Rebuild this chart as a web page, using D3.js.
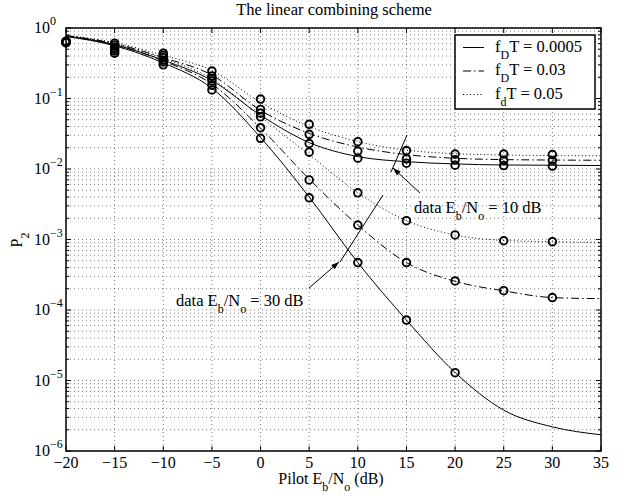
<!DOCTYPE html>
<html>
<head>
<meta charset="utf-8">
<script src="https://cdn.jsdelivr.net/npm/d3@7/dist/d3.min.js"></script>
<style>
body { margin: 0; background: #fff; }
svg text { font-family: "Liberation Serif", "Times New Roman", serif; fill: #000; }
</style>
</head>
<body>
<div id="chart"></div>
<script>
// pilot Eb/No (dB) for the analytic curves and for the simulated points
var xLine = [-20, -15, -10, -5, 0, 5, 10, 15, 20, 25, 30, 35];
var xSim = [-20, -15, -10, -5, 0, 5, 10, 15, 20, 25, 30];

// data Eb/No = 10 dB
var solid10 = [0.77, 0.58, 0.35, 0.18, 0.058, 0.0237, 0.0150, 0.0127, 0.0118, 0.0114, 0.0113, 0.0112];
var dashdot10 = [0.78, 0.60, 0.38, 0.215, 0.068, 0.032, 0.0205, 0.0160, 0.0142, 0.0136, 0.0134, 0.0133];
var dotted10 = [0.79, 0.62, 0.41, 0.25, 0.088, 0.040, 0.0245, 0.0185, 0.0165, 0.0158, 0.0155, 0.0154];
// data Eb/No = 30 dB
var solid30 = [0.76, 0.56, 0.32, 0.14, 0.028, 0.0040, 4.7e-4, 7.2e-5, 1.3e-5, 3.8e-6, 2.2e-6, 1.7e-6];
var dashdot30 = [0.77, 0.58, 0.34, 0.16, 0.038, 0.0072, 1.6e-3, 4.7e-4, 2.55e-4, 1.87e-4, 1.5e-4, 1.45e-4];
var dotted30 = [0.78, 0.60, 0.37, 0.19, 0.055, 0.016, 4.6e-3, 1.85e-3, 1.16e-3, 9.7e-4, 9.3e-4, 9.1e-4];

// simulation circles
var simSolid10 = [0.63, 0.53, 0.35, 0.177, 0.062, 0.023, 0.0142, 0.0121, 0.0113, 0.0112, 0.0110];
var simDashdot10 = [0.64, 0.57, 0.38, 0.208, 0.070, 0.031, 0.018, 0.0139, 0.0135, 0.0133, 0.0132];
var simDotted10 = [0.65, 0.61, 0.44, 0.245, 0.098, 0.043, 0.0244, 0.0183, 0.0163, 0.0163, 0.0160];
var simSolid30 = [0.62, 0.44, 0.30, 0.132, 0.0272, 0.0039, 4.7e-4, 7.2e-5, 1.29e-5];
var simDashdot30 = [0.62, 0.47, 0.33, 0.154, 0.0385, 0.0070, 1.6e-3, 4.7e-4, 2.58e-4, 1.88e-4, 1.5e-4];
var simDotted30 = [0.63, 0.50, 0.41, 0.19, 0.055, 0.0173, 4.6e-3, 1.85e-3, 1.16e-3, 9.6e-4, 9.3e-4];

var xTicks = [-20, -15, -10, -5, 0, 5, 10, 15, 20, 25, 30, 35];
var yTicks = [1, 1e-1, 1e-2, 1e-3, 1e-4, 1e-5, 1e-6];
var yExponents = ["0", "\u22121", "\u22122", "\u22123", "\u22124", "\u22125", "\u22126"];
var legendLabels = [["f", "D", "T = 0.0005"], ["f", "D", "T = 0.03"], ["f", "d", "T = 0.05"]];

var dashSolid = null;
var dashDashdot = "8,3,1.5,3";
var dashDotted = "1,2.5";

var margins = {left: 66, right: 23, top: 28, bottom: 49};
var fullWidth = 624, fullHeight = 500;
var width = fullWidth - margins.left - margins.right;
var height = fullHeight - margins.top - margins.bottom;

var svg = d3.select("#chart").append("svg")
    .attr("width", fullWidth)
    .attr("height", fullHeight);

var xScale = d3.scaleLinear().domain([-20, 35]).range([margins.left, margins.left + width]);
var yScale = d3.scaleLog().domain([1e-6, 1]).range([margins.top + height, margins.top]);

var x0 = margins.left, x1 = margins.left + width;
var y0 = margins.top, y1 = margins.top + height;

// grid (major + minor for the log axis)
var grid = svg.append("g")
    .attr("stroke", "#444")
    .attr("stroke-width", 0.7)
    .attr("stroke-dasharray", "1,3");

var minorY = [];
for (var e = -6; e < 0; e++) {
    for (var m = 1; m < 10; m++) {
        minorY.push(m * Math.pow(10, e));
    }
}
grid.selectAll("line.h")
    .data(minorY)
    .enter().append("line")
    .attr("x1", x0).attr("x2", x1)
    .attr("y1", function(d) { return yScale(d); })
    .attr("y2", function(d) { return yScale(d); });
grid.selectAll("line.v")
    .data(xTicks.slice(1, -1))
    .enter().append("line")
    .attr("y1", y0).attr("y2", y1)
    .attr("x1", function(d) { return xScale(d); })
    .attr("x2", function(d) { return xScale(d); });

// curves
var line = d3.line()
    .x(function(d) { return xScale(d[0]); })
    .y(function(d) { return yScale(d[1]); })
    .curve(d3.curveMonotoneX);

var curves = [
    [solid10, dashSolid], [dashdot10, dashDashdot], [dotted10, dashDotted],
    [solid30, dashSolid], [dashdot30, dashDashdot], [dotted30, dashDotted]
];
var plot = svg.append("g");
curves.forEach(function(c) {
    plot.append("path")
        .datum(xLine.map(function(v, i) { return [v, c[0][i]]; }))
        .attr("d", line)
        .attr("fill", "none")
        .attr("stroke", "#000")
        .attr("stroke-width", 1)
        .attr("stroke-dasharray", c[1]);
});

var sims = [simSolid10, simDashdot10, simDotted10, simSolid30, simDashdot30, simDotted30];
sims.forEach(function(s) {
    plot.selectAll(null)
        .data(s)
        .enter().append("circle")
        .attr("cx", function(d, i) { return xScale(xSim[i]); })
        .attr("cy", function(d) { return yScale(d); })
        .attr("r", 3.8)
        .attr("fill", "none")
        .attr("stroke", "#000")
        .attr("stroke-width", 1.9);
});

// axes box and ticks (inside, on all four sides)
var axes = svg.append("g").attr("stroke", "#000");
axes.append("rect")
    .attr("x", x0).attr("y", y0)
    .attr("width", width).attr("height", height)
    .attr("fill", "none")
    .attr("stroke-width", 1.5);

xTicks.forEach(function(t) {
    var px = xScale(t);
    axes.append("line").attr("x1", px).attr("x2", px).attr("y1", y1).attr("y2", y1 - 5);
    axes.append("line").attr("x1", px).attr("x2", px).attr("y1", y0).attr("y2", y0 + 5);
});
minorY.concat([1]).forEach(function(t) {
    var py = yScale(t);
    var len = Math.abs(Math.log10(t) - Math.round(Math.log10(t))) < 1e-9 ? 5 : 3;
    axes.append("line").attr("x1", x0).attr("x2", x0 + len).attr("y1", py).attr("y2", py);
    axes.append("line").attr("x1", x1).attr("x2", x1 - len).attr("y1", py).attr("y2", py);
});

// tick labels
svg.append("g").selectAll("text")
    .data(xTicks)
    .enter().append("text")
    .attr("x", function(d) { return xScale(d); })
    .attr("y", y1 + 17)
    .attr("text-anchor", "middle")
    .attr("font-size", 16)
    .text(function(d) { return d < 0 ? "\u2212" + Math.abs(d) : d; });

var yLab = svg.append("g").selectAll("text")
    .data(yTicks)
    .enter().append("text")
    .attr("x", 34)
    .attr("y", function(d) { return yScale(d) + 5; })
    .attr("font-size", 16);
yLab.append("tspan").text("10");
yLab.append("tspan")
    .attr("dy", -8)
    .attr("font-size", 12)
    .text(function(d, i) { return yExponents[i]; });

// text with subscripts: parts alternate normal / subscript
function subText(g, parts, size, subSize, drop) {
    var t = g.append("text").attr("font-size", size);
    var low = false;
    parts.forEach(function(p, i) {
        var ts = t.append("tspan").text(p);
        if (i % 2 == 1) {
            ts.attr("font-size", subSize).attr("dy", drop);
            low = true;
        } else if (low) {
            ts.attr("dy", -drop);
            low = false;
        }
    });
    return t;
}

svg.append("text")
    .attr("x", 334).attr("y", 15)
    .attr("text-anchor", "middle")
    .attr("font-size", 16.5)
    .text("The linear combining scheme");

subText(svg, ["Pilot E", "b", "/N", "o", " (dB)"], 16, 12, 7)
    .attr("x", 331).attr("y", 484)
    .attr("text-anchor", "middle");

subText(svg, ["P", "2"], 16, 12, 7)
    .attr("text-anchor", "middle")
    .attr("transform", "translate(22,240) rotate(-90)");

// legend
var legend = svg.append("g");
legend.append("rect")
    .attr("x", 455).attr("y", 35)
    .attr("width", 140).attr("height", 74)
    .attr("fill", "#fff")
    .attr("stroke", "#000")
    .attr("stroke-width", 1.5);
[dashSolid, dashDashdot, dashDotted].forEach(function(dash, i) {
    var ly = 47.5 + i * 23.5;
    legend.append("line")
        .attr("x1", 463).attr("x2", 484)
        .attr("y1", ly).attr("y2", ly)
        .attr("stroke", "#000")
        .attr("stroke-dasharray", dash);
    subText(legend, legendLabels[i], 16.5, 12, 7)
        .attr("x", 495).attr("y", ly + 4);
});

// annotations
svg.append("defs").append("marker")
    .attr("id", "head")
    .attr("viewBox", "0 0 10 10")
    .attr("refX", 10).attr("refY", 5)
    .attr("markerWidth", 8).attr("markerHeight", 8)
    .attr("markerUnits", "userSpaceOnUse")
    .attr("orient", "auto")
    .append("path")
    .attr("d", "M0,1.5L10,5L0,8.5z")
    .attr("fill", "#000");

var notes = svg.append("g").attr("stroke", "#000").attr("stroke-width", 1);
notes.append("line").attr("x1", 391).attr("y1", 172).attr("x2", 407).attr("y2", 135);
notes.append("line").attr("x1", 420).attr("y1", 193).attr("x2", 393).attr("y2", 168)
    .attr("marker-end", "url(#head)");
notes.append("line").attr("x1", 340).attr("y1", 262).attr("x2", 383).attr("y2", 195);
notes.append("line").attr("x1", 309).attr("y1", 288).attr("x2", 339).attr("y2", 262)
    .attr("marker-end", "url(#head)");

subText(svg, ["data E", "b", "/N", "o", " = 10 dB"], 16.5, 12, 7)
    .attr("x", 414).attr("y", 213);
subText(svg, ["data E", "b", "/N", "o", " = 30 dB"], 16.5, 12, 7)
    .attr("x", 176).attr("y", 306);
</script>
</body>
</html>
